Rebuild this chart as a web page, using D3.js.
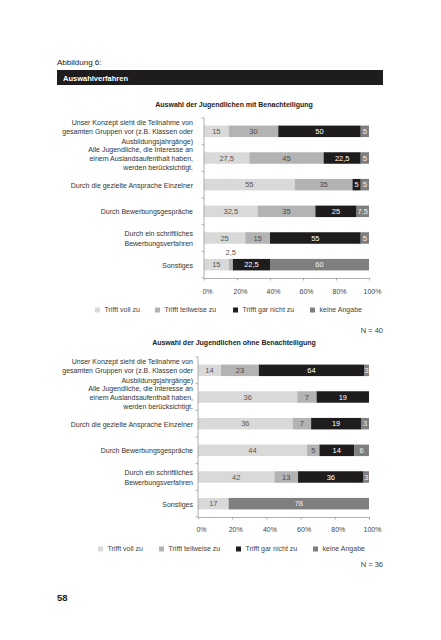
<!DOCTYPE html>
<html><head><meta charset="utf-8">
<script src="https://cdn.jsdelivr.net/npm/d3@7"></script>
<style>body{margin:0;background:#fff}svg{display:block;font-family:"Liberation Sans",Arial,Helvetica,sans-serif}</style>
</head><body><svg id="c" width="441" height="640"></svg>
<script>
const categories = [
  ["Unser Konzept sieht die Teilnahme von","gesamten Gruppen vor (z.B. Klassen oder","Ausbildungsjahrgänge)"],
  ["Alle Jugendliche, die Interesse an","einem Auslandsaufenthalt haben,","werden berücksichtigt."],
  ["Durch die gezielte Ansprache Einzelner"],
  ["Durch Bewerbungsgespräche"],
  ["Durch ein schriftliches","Bewerbungsverfahren"],
  ["Sonstiges"]
];
const seriesNames = ["Trifft voll zu","Trifft teilweise zu","Trifft gar nicht zu","keine Angabe"];
const seriesColors = ["#d9d9d9","#b3b3b3","#1f1c1d","#7f7f7f"];
const labelColors = ["#555555","#4a4a4a","#ffffff","#f2f2f2"];
const mitVoll = [15,27.5,55,32.5,25,15];
const mitTeilweise = [30,45,35,35,15,2.5];
const mitGarNicht = [50,22.5,5,25,55,22.5];
const mitKeine = [5,5,5,7.5,5,60];
const ohneVoll = [14,36,36,44,42,17];
const ohneTeilweise = [23,7,7,5,13,0];
const ohneGarNicht = [64,19,19,14,36,0];
const ohneKeine = [3,0,3,6,3,78];
const xTicks = [0,20,40,60,80,100];

const svg = d3.select("#c");
const fmt = v => String(v).replace(".", ",");

// header
svg.append("text").attr("x",57).attr("y",65).attr("font-size",8).attr("fill","#222").text("Abbildung 6:");
svg.append("rect").attr("x",57).attr("y",70).attr("width",326).attr("height",15).attr("fill","#1f1c1d");
svg.append("text").attr("x",63).attr("y",80.5).attr("font-size",7.5).attr("font-weight","bold").attr("fill","#fff").text("Auswahlverfahren");
svg.append("text").attr("x",57).attr("y",601).attr("font-size",9.5).attr("font-weight","bold").attr("fill","#222").text("58");

let clipId = 0;
function drawChart(cfg){
  const g = svg.append("g");
  const x = d3.scaleLinear().domain([0,100]).range([cfg.x0, cfg.x1]);
  const y = d3.scaleBand().domain(d3.range(categories.length)).range([cfg.yTop, cfg.yBot]).padding(0);
  const barH = 11.5;
  // title
  g.append("text").attr("x",234).attr("y",cfg.titleY).attr("text-anchor","middle")
    .attr("font-size",7).attr("font-weight","bold").attr("fill","#222").text(cfg.title);
  // category labels
  categories.forEach((lines,i)=>{
    const cy = y(i) + y.bandwidth()/2 + 0.5;
    const lh = 9.3;
    const t = g.append("text").attr("text-anchor","end").attr("font-size",7).attr("fill","#333");
    lines.forEach((ln,j)=>{
      t.append("tspan").attr("x",193).attr("y", cy + (j-(lines.length-1)/2)*lh).attr("dy","0.35em").text(ln);
    });
  });
  // stacked bars
  const rows = categories.map((c,i)=>{
    const vals = cfg.series.map(s=>s[i]);
    const tot = d3.sum(vals);
    let acc = 0;
    return vals.map((v,k)=>{ const s = acc/tot*100; acc += v; return {v, k, s, e: acc/tot*100}; });
  });
  rows.forEach((segs,i)=>{
    const cy = y(i) + y.bandwidth()/2;
    segs.forEach(sg=>{
      if(sg.v<=0) return;
      const xs = x(sg.s), xe = x(sg.e);
      g.append("rect").attr("x",xs).attr("y",cy-barH/2).attr("width",xe-xs).attr("height",barH).attr("fill",seriesColors[sg.k]);
      const w = xe-xs;
      if(w < 4.5){
        g.append("text").attr("x",(xs+xe)/2).attr("y",cy-barH/2-3.5).attr("text-anchor","middle")
          .attr("font-size",7.5).attr("fill","#555").text(fmt(sg.v));
      } else {
        const id = "clip"+(clipId++);
        g.append("clipPath").attr("id",id).append("rect").attr("x",xs).attr("y",cy-barH/2).attr("width",w).attr("height",barH);
        g.append("text").attr("clip-path","url(#"+id+")").attr("x",(xs+xe)/2).attr("y",cy).attr("dy","0.35em")
          .attr("text-anchor","middle").attr("font-size",7.5).attr("fill",labelColors[sg.k]).text(fmt(sg.v));
      }
    });
  });
  // left axis
  const ax = "#9a9a9a";
  g.append("line").attr("x1",cfg.x0).attr("x2",cfg.x0).attr("y1",cfg.yTop).attr("y2",cfg.yBot).attr("stroke",ax).attr("stroke-width",0.8);
  const bounds = y.domain().map(d=>y(d)).concat([cfg.yBot]);
  bounds.forEach(b=>{
    g.append("line").attr("x1",cfg.x0-2.5).attr("x2",cfg.x0).attr("y1",b).attr("y2",b).attr("stroke",ax).attr("stroke-width",0.8);
  });
  // bottom axis
  const xa = g.append("g").attr("transform",`translate(0,${cfg.yBot})`)
    .call(d3.axisBottom(x).tickValues(xTicks).tickSize(2.5).tickSizeOuter(0).tickFormat(d=>d+"%"));
  xa.select(".domain").attr("stroke",ax).attr("stroke-width",0.8);
  xa.selectAll(".tick line").attr("stroke",ax).attr("stroke-width",0.8);
  xa.selectAll(".tick text").attr("font-size",7).attr("font-family",null).attr("fill","#444")
    .attr("dx",3).attr("y",cfg.tickY-cfg.yBot).attr("dy","0.35em");
  // legend
  seriesNames.forEach((n,k)=>{
    g.append("rect").attr("x",cfg.legendX[k]).attr("y",cfg.legendY-2.5).attr("width",5).attr("height",5).attr("fill",seriesColors[k]);
    g.append("text").attr("x",cfg.legendX[k]+9.5).attr("y",cfg.legendY).attr("dy","0.35em")
      .attr("font-size",7).attr("fill","#444").text(n);
  });
  g.append("text").attr("x",383).attr("y",cfg.nY).attr("dy","0.35em").attr("text-anchor","end")
    .attr("font-size",7.5).attr("fill","#444").text(cfg.nText);
}

drawChart({
  title:"Auswahl der Jugendlichen mit Benachteiligung",
  series:[mitVoll,mitTeilweise,mitGarNicht,mitKeine],
  x0:204, x1:369, yTop:118, yBot:278, titleY:107, tickY:292,
  legendY:310, legendX:[95,155,233,310], nText:"N = 40", nY:330
});
drawChart({
  title:"Auswahl der Jugendlichen ohne Benachteiligung",
  series:[ohneVoll,ohneTeilweise,ohneGarNicht,ohneKeine],
  x0:198, x1:369, yTop:357, yBot:517, titleY:345, tickY:530,
  legendY:549, legendX:[98,159,236,313], nText:"N = 36", nY:564
});
</script></body></html>
